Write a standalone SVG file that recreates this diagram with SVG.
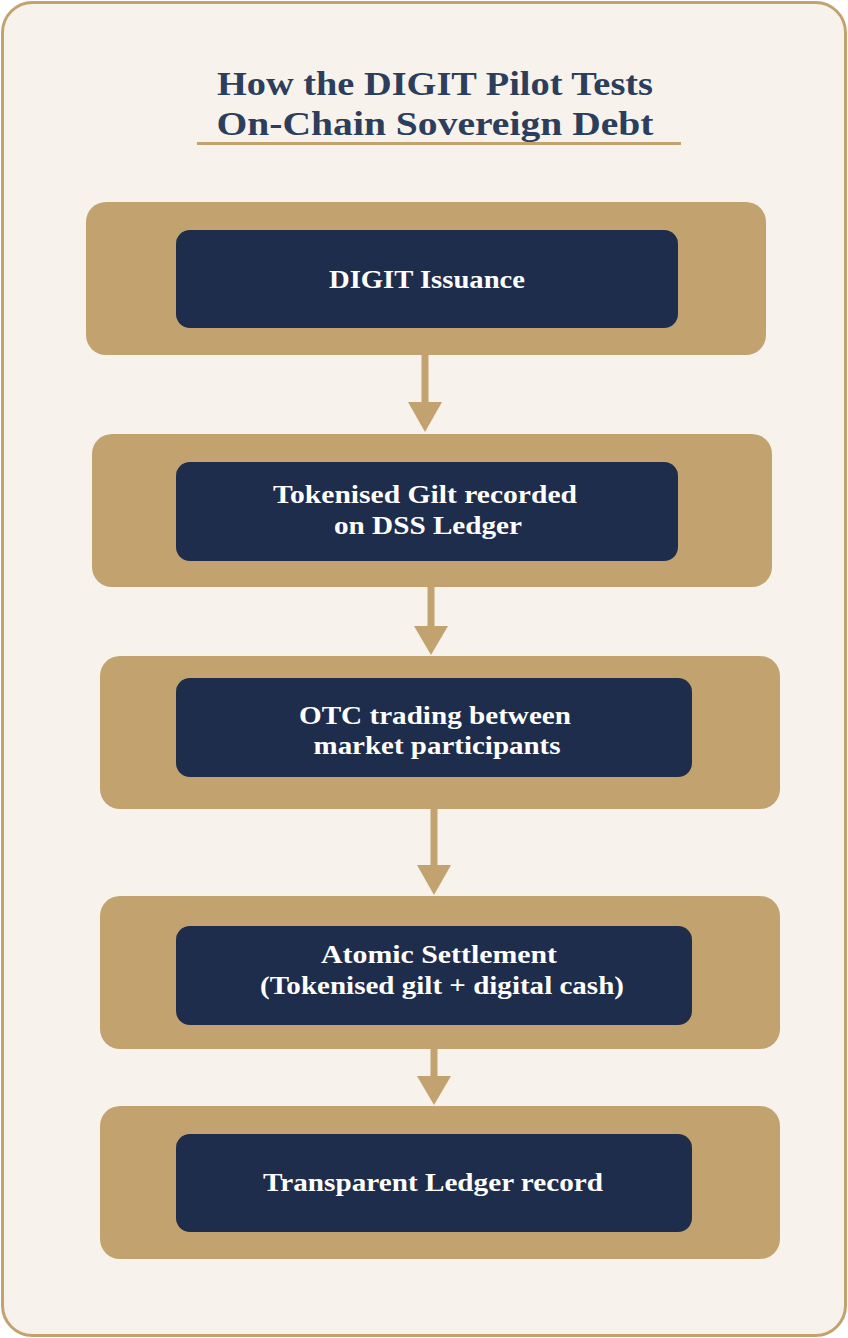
<svg xmlns="http://www.w3.org/2000/svg" width="848" height="1338" viewBox="0 0 848 1338">
<defs>
<style>
.outer{fill:#C2A36F}
.inner{fill:#1F2D4C}
.lbl{font-family:"Liberation Serif","DejaVu Serif",serif;font-size:25px;font-weight:bold;fill:#FFFFFF;text-anchor:middle}
.title{font-family:"Liberation Serif","DejaVu Serif",serif;font-size:34px;font-weight:bold;fill:#2C3E5C;text-anchor:middle}
.conn line{stroke:#C2A36F;stroke-width:7}
.conn polygon{fill:#C2A36F}
</style>
</defs>
<rect x="2.5" y="2.5" width="843" height="1333" rx="30" ry="30" fill="#F7F3EC" stroke="#C2A36F" stroke-width="3"/>
<g id="title">
<text class="title" x="435" y="95" textLength="436" lengthAdjust="spacingAndGlyphs">How the DIGIT Pilot Tests</text>
<text class="title" x="435" y="135" textLength="437" lengthAdjust="spacingAndGlyphs">On-Chain Sovereign Debt</text>
<rect x="197" y="142" width="484" height="3" fill="#C2A36F"/>
</g>
<g id="connectors" class="conn">
<line x1="425" y1="355" x2="425" y2="404"/>
<polygon points="408,402 442,402 425,432"/>
<line x1="431" y1="587" x2="431" y2="628"/>
<polygon points="414,626 448,626 431,655"/>
<line x1="434" y1="809" x2="434" y2="867"/>
<polygon points="417,865 451,865 434,895"/>
<line x1="434" y1="1049" x2="434" y2="1078"/>
<polygon points="417,1076 451,1076 434,1105"/>
</g>
<g id="node1">
<rect class="outer" x="86" y="202" width="680" height="153" rx="20"/>
<rect class="inner" x="176" y="230" width="502" height="98" rx="14"/>
<text class="lbl" x="427" y="288" textLength="196" lengthAdjust="spacingAndGlyphs">DIGIT Issuance</text>
</g>
<g id="node2">
<rect class="outer" x="92" y="434" width="680" height="153" rx="20"/>
<rect class="inner" x="176" y="462" width="502" height="99" rx="14"/>
<text class="lbl" x="425" y="503" textLength="304" lengthAdjust="spacingAndGlyphs">Tokenised Gilt recorded</text>
<text class="lbl" x="428" y="534" textLength="188" lengthAdjust="spacingAndGlyphs">on DSS Ledger</text>
</g>
<g id="node3">
<rect class="outer" x="100" y="656" width="680" height="153" rx="20"/>
<rect class="inner" x="176" y="678" width="516" height="99" rx="14"/>
<text class="lbl" x="435" y="724" textLength="272" lengthAdjust="spacingAndGlyphs">OTC trading between</text>
<text class="lbl" x="437" y="754" textLength="247" lengthAdjust="spacingAndGlyphs">market participants</text>
</g>
<g id="node4">
<rect class="outer" x="100" y="896" width="680" height="153" rx="20"/>
<rect class="inner" x="176" y="926" width="516" height="99" rx="14"/>
<text class="lbl" x="439" y="963" textLength="236" lengthAdjust="spacingAndGlyphs">Atomic Settlement</text>
<text class="lbl" x="442" y="994" textLength="364" lengthAdjust="spacingAndGlyphs">(Tokenised gilt + digital cash)</text>
</g>
<g id="node5">
<rect class="outer" x="100" y="1106" width="680" height="153" rx="20"/>
<rect class="inner" x="176" y="1134" width="516" height="98" rx="14"/>
<text class="lbl" x="433" y="1191" textLength="340" lengthAdjust="spacingAndGlyphs">Transparent Ledger record</text>
</g>
</svg>
